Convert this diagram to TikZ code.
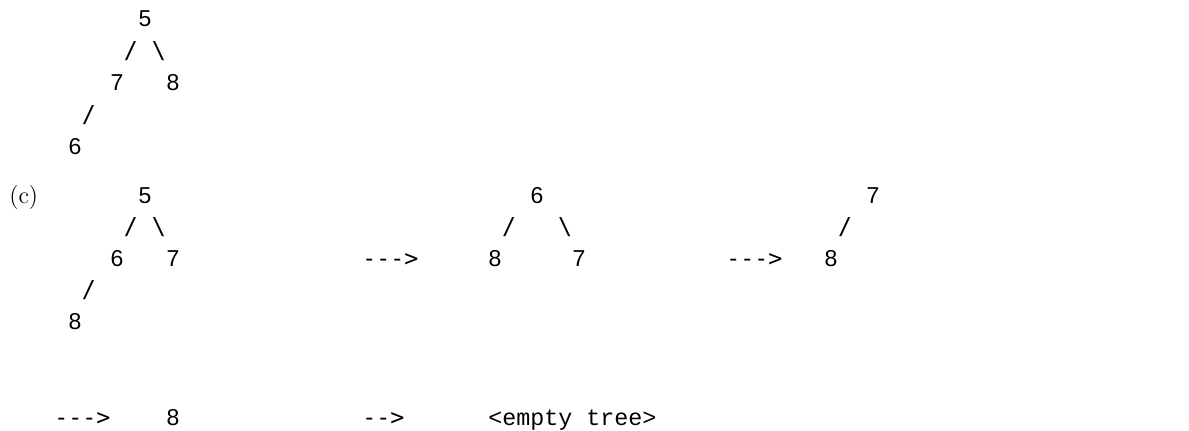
\documentclass[tikz,border=0pt]{standalone}
\usepackage{fontspec}
\newfontfamily\digfont{Liberation Sans}
\newfontfamily\symfont{DejaVu Sans Mono}
\newfontfamily\ttfont{Liberation Mono}
\begin{document}
\begin{tikzpicture}[x=0.5pt,y=-0.5pt,
  g/.style={inner sep=0pt, anchor=base, font=\digfont\fontsize{11.5}{12}\selectfont},
  sl/.style={inner sep=0pt, anchor=base, font=\symfont\fontsize{11.63}{12}\selectfont},
  arr/.style={inner sep=0pt, anchor=base west, font=\symfont\fontsize{11.63}{12}\selectfont},
  ttx/.style={inner sep=0pt, anchor=base west, font=\ttfont\fontsize{11.67}{12}\selectfont},
  lab/.style={inner sep=0pt, anchor=base west, font=\fontsize{12}{14}\selectfont}]
\useasboundingbox (0,0) rectangle (1189,430);
% block 1
\node[g]  (a5)  at ({75+14*5},26) {5};
\node[sl] (as1) at ({75+14*4},58) {/};
\node[sl] (as2) at ({75+14*6},58) {\textbackslash};
\node[g]  (a7)  at ({75+14*3},90) {7};
\node[g]  (a8)  at ({75+14*7},90) {8};
\node[sl] (as3) at ({75+14*1},122) {/};
\node[g]  (a6)  at ({75+14*0},154) {6};
% label (c)
\node[lab] (lc) at (9,203) {(c)};
% block 2 left tree
\node[g]  (b5)  at ({75+14*5},203) {5};
\node[sl] (bs1) at ({75+14*4},234) {/};
\node[sl] (bs2) at ({75+14*6},234) {\textbackslash};
\node[g]  (b6)  at ({75+14*3},266) {6};
\node[g]  (b7)  at ({75+14*7},266) {7};
\node[sl] (bs3) at ({75+14*1},297) {/};
\node[g]  (b8)  at ({75+14*0},329) {8};
% arrow 1
\node[arr] (r1) at ({68+14*21},266) {--{}-{}>};
% middle tree
\node[g]  (c6)  at ({75+14*33},203) {6};
\node[sl] (cs1) at ({75+14*31},234) {/};
\node[sl] (cs2) at ({75+14*35},234) {\textbackslash};
\node[g]  (c8)  at ({75+14*30},266) {8};
\node[g]  (c7)  at ({75+14*36},266) {7};
% arrow 2
\node[arr] (r2) at ({68+14*47},266) {--{}-{}>};
% right tree
\node[g]  (d7)  at ({75+14*57},203) {7};
\node[sl] (ds1) at ({75+14*55},234) {/};
\node[g]  (d8)  at ({75+14*54},266) {8};
% bottom row
\node[arr] (r3) at ({68+14*(-1)},425) {--{}-{}>};
\node[g]   (e8) at ({75+14*7},425) {8};
\node[arr] (r4) at ({68+14*21},425) {--{}>};
\node[ttx] (em) at ({68+14*30},425) {<empty tree>};
\end{tikzpicture}
\end{document}
